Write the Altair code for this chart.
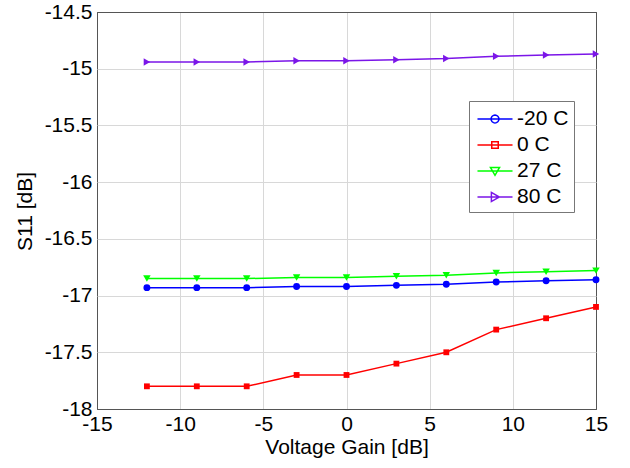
import math
import altair as alt
import pandas as pd

gain = [-12, -9, -6, -3, 0, 3, 6, 9, 12, 15]
series_names = ["-20 C", "0 C", "27 C", "80 C"]
s_m20 = [-16.93, -16.93, -16.93, -16.92, -16.92, -16.91, -16.90, -16.88, -16.87, -16.86]
s_0 = [-17.8, -17.8, -17.8, -17.7, -17.7, -17.6, -17.5, -17.3, -17.2, -17.1]
s_27 = [-16.85, -16.85, -16.85, -16.84, -16.84, -16.83, -16.82, -16.80, -16.79, -16.78]
s_80 = [-14.94, -14.94, -14.94, -14.93, -14.93, -14.92, -14.91, -14.89, -14.88, -14.87]
colors = ["#0000FF", "#FF0000", "#00FF00", "#7B16E8"]
marker_shapes = ["circle", "square", "triangle-down", "triangle-right"]
marker_sizes = [48, 34, 56, 56]
x_ticks = [-15, -10, -5, 0, 5, 10, 15]
y_ticks = [-18, -17.5, -17, -16.5, -16, -15.5, -15, -14.5]

# legend symbols: short line with marker in the middle (shape definitions)
L = 1.46
R = 0.33
circ = "L".join(f"{R*math.cos(2*math.pi*k/16):.3f},{R*math.sin(2*math.pi*k/16):.3f}" for k in range(16))
legend_paths = [
    f"M-{L},0L{L},0M{circ}Z",
    f"M-{L},0L{L},0M-0.27,-0.27L0.27,-0.27L0.27,0.27L-0.27,0.27Z",
    f"M-{L},0L{L},0M-0.38,-0.3L0.38,-0.3L0,0.36Z",
    f"M-{L},0L{L},0M-0.3,-0.38L0.36,0L-0.3,0.38Z",
]

rows = []
for name, vals in zip(series_names, [s_m20, s_0, s_27, s_80]):
    for g, v in zip(gain, vals):
        rows.append({"gain": g, "s11": v, "series": name})
df = pd.DataFrame(rows)

FONT = "Liberation Sans"
FS = 21
GRID = "#d8d8d8"
FRAME = "#555555"

x_enc = alt.X("gain:Q",
              scale=alt.Scale(domain=[-15, 15], nice=False, zero=False),
              axis=alt.Axis(values=x_ticks, title="Voltage Gain [dB]",
                            labelExpr="'' + datum.value", labelFlush=False,
                            gridColor={"condition": {"test": "datum.value == -15 || datum.value == 15",
                                                     "value": FRAME}, "value": GRID},
                            titleX=249.5, titleY=38, titleBaseline="middle"))
y_enc = alt.Y("s11:Q",
              scale=alt.Scale(domain=[-18, -14.5], nice=False, zero=False),
              axis=alt.Axis(values=y_ticks, title="S11 [dB]",
                            labelExpr="'' + datum.value", labelFlush=False,
                            gridColor={"condition": {"test": "datum.value == -18 || datum.value == -14.5",
                                                     "value": FRAME}, "value": GRID},
                            titleX=-72, titleY=199, titleBaseline="middle"))
color_scale = alt.Scale(domain=series_names, range=colors)

lines = alt.Chart(df).mark_line(strokeWidth=1.5).encode(
    x=x_enc, y=y_enc,
    color=alt.Color("series:N", scale=color_scale, legend=None),
)

point_layers = []
for name, shp, sz in zip(series_names, marker_shapes, marker_sizes):
    point_layers.append(
        alt.Chart(df).transform_filter(alt.datum.series == name)
        .mark_point(filled=True, opacity=1, size=sz, shape=shp)
        .encode(x=x_enc, y=y_enc,
                color=alt.Color("series:N", scale=color_scale, legend=None))
    )

leg = alt.Legend(title=None, orient="none", legendX=372, legendY=89)
ghost = alt.Chart(df).mark_point(filled=True, opacity=0).encode(
    x=x_enc, y=y_enc,
    fill=alt.Fill("series:N", scale=alt.Scale(domain=series_names, range=colors), legend=leg),
    stroke=alt.Stroke("series:N", scale=alt.Scale(domain=series_names, range=colors), legend=leg),
    shape=alt.Shape("series:N", scale=alt.Scale(domain=series_names, range=legend_paths), legend=leg),
)

chart = alt.layer(lines, *point_layers, ghost).resolve_scale(
    shape="independent", fill="independent", stroke="independent"
).properties(
    width=499, height=397,
    autosize=alt.AutoSizeParams(type="none"),
    padding={"left": 97, "top": 12, "right": 34, "bottom": 59},
    background="white",
).configure_view(
    stroke=FRAME, strokeWidth=1,
).configure_axis(
    labelFont=FONT, titleFont=FONT, labelFontSize=FS, titleFontSize=FS,
    labelColor="black", titleColor="black", titleFontWeight="normal",
    grid=True, gridWidth=1,
    domain=False, ticks=False, tickSize=0,
).configure_axisX(
    labelPadding=4,
).configure_axisY(
    labelPadding=5,
).configure_legend(
    orient="none", legendX=372, legendY=89,
    labelFont=FONT, labelFontSize=FS, labelColor="black",
    symbolSize=576, symbolStrokeWidth=1.5, symbolOffset=8,
    strokeColor="#777777", fillColor="white", padding=5,
    rowPadding=3, labelOffset=9, cornerRadius=0,
)

chart.save("out.html", embed_options={"renderer": "svg", "actions": False})
